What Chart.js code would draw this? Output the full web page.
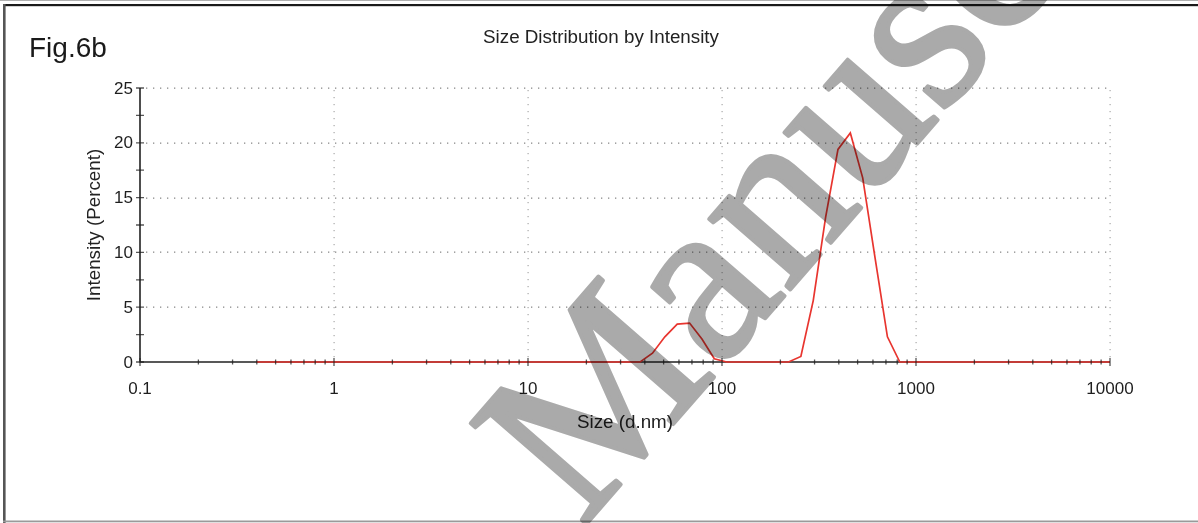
<!DOCTYPE html>
<html>
<head>
<meta charset="utf-8">
<script src="https://cdn.jsdelivr.net/npm/chart.js@4.4.1/dist/chart.umd.min.js"></script>
<style>
  html, body { margin: 0; padding: 0; background: #fff; }
  #wrap { position: relative; width: 1198px; height: 523px; }
  canvas { display: block; }
</style>
</head>
<body>
<div id="wrap"><canvas id="c" width="1198" height="523"></canvas></div>
<script>
// Size classes (d.nm) of the DLS size distribution
const sizes = [
  0.4000, 0.4632, 0.5365, 0.6213, 0.7195, 0.8332, 0.9649, 1.117, 1.294, 1.499,
  1.736, 2.010, 2.328, 2.696, 3.122, 3.615, 4.187, 4.849, 5.615, 6.503,
  7.531, 8.721, 10.10, 11.70, 13.54, 15.69, 18.17, 21.04, 24.36, 28.21,
  32.67, 37.84, 43.82, 50.75, 58.77, 68.06, 78.82, 91.28, 105.7, 122.4,
  141.8, 164.2, 190.1, 220.2, 255.0, 295.3, 342.0, 396.1, 458.7, 531.2,
  615.1, 712.4, 825.0, 955.4, 1106, 1281, 1484, 1718, 1990, 2305,
  2669, 3091, 3580, 4145, 4801, 5560, 6439, 7456, 8635, 10000
];

// Intensity (%) in each size class
const intensity = [
  0, 0, 0, 0, 0, 0, 0, 0, 0, 0,
  0, 0, 0, 0, 0, 0, 0, 0, 0, 0,
  0, 0, 0, 0, 0, 0, 0, 0, 0, 0,
  0, 0, 0.8, 2.3, 3.45, 3.55, 2.1, 0.3, 0, 0,
  0, 0, 0, 0, 0.5, 5.6, 13.2, 19.4, 20.9, 16.8,
  9.5, 2.3, 0, 0, 0, 0, 0, 0, 0, 0,
  0, 0, 0, 0, 0, 0, 0, 0, 0, 0
];

// Axis tick labels
const xTickValues = [0.1, 1, 10, 100, 1000, 10000];
const xTickLabels = ['0.1', '1', '10', '100', '1000', '10000'];
const yTickValues = [0, 5, 10, 15, 20, 25];

const chartTitle = 'Size Distribution by Intensity';
const figLabel = 'Fig.6b';
const xTitle = 'Size (d.nm)';
const yTitle = 'Intensity (Percent)';
const stampText = 'Manuscript';

const FONT = '"Liberation Sans", Arial, sans-serif';

// Frame, gridlines, axes and ticks drawn from the chart's own scales
const decorPlugin = {
  id: 'decor',
  beforeDatasetsDraw(chart) {
    const { ctx, chartArea: a, scales: { x, y } } = chart;
    ctx.save();

    // dotted horizontal gridlines
    ctx.fillStyle = '#8a8a8a';
    yTickValues.forEach(v => {
      if (v === 0) return;
      const py = Math.round(y.getPixelForValue(v));
      for (let px = a.left + 6; px <= a.right; px += 7) ctx.fillRect(px, py - 0.5, 1.3, 1.3);
    });
    // dotted vertical gridlines at decades
    ctx.fillStyle = '#a8a8a8';
    xTickValues.forEach(v => {
      if (v === 0.1) return;
      const px = Math.round(x.getPixelForValue(v));
      for (let py = a.bottom - 6; py >= a.top; py -= 7) ctx.fillRect(px - 0.5, py, 1.2, 1.2);
    });

    // axis lines
    ctx.strokeStyle = '#222';
    ctx.lineWidth = 1.6;
    ctx.beginPath();
    ctx.moveTo(a.left, a.top);
    ctx.lineTo(a.left, a.bottom);
    ctx.lineTo(a.right, a.bottom);
    ctx.stroke();
    ctx.restore();
  },
  afterDatasetsDraw(chart) {
    const { ctx, chartArea: a, scales: { x, y } } = chart;
    ctx.save();
    ctx.strokeStyle = 'rgba(30,30,30,0.75)';
    ctx.lineWidth = 1.3;
    ctx.beginPath();
    // y ticks, major and minor, crossing the axis
    for (let v = 0; v <= 25; v += 2.5) {
      const py = y.getPixelForValue(v);
      ctx.moveTo(a.left - 4, py);
      ctx.lineTo(a.left + 4, py);
    }
    // x minor ticks on each decade
    for (let d = 0.1; d < 10000; d *= 10) {
      for (let m = 2; m <= 9; m++) {
        const px = x.getPixelForValue(d * m);
        ctx.moveTo(px, a.bottom - 2.5);
        ctx.lineTo(px, a.bottom + 2.5);
      }
    }
    xTickValues.forEach(v => {
      const px = x.getPixelForValue(v);
      ctx.moveTo(px, a.bottom - 4);
      ctx.lineTo(px, a.bottom + 4);
    });
    ctx.stroke();

    // tick labels
    ctx.fillStyle = '#1e1e1e';
    ctx.font = '17px ' + FONT;
    ctx.textAlign = 'right';
    ctx.textBaseline = 'middle';
    yTickValues.forEach(v => ctx.fillText(String(v), a.left - 7, y.getPixelForValue(v) + 1));
    ctx.textAlign = 'center';
    ctx.textBaseline = 'top';
    xTickValues.forEach((v, i) => ctx.fillText(xTickLabels[i], x.getPixelForValue(v), a.bottom + 19));

    // titles
    ctx.fillStyle = '#222';
    ctx.font = '18.8px ' + FONT;
    ctx.textBaseline = 'alphabetic';
    ctx.fillText(chartTitle, 601, 43);
    ctx.fillText(xTitle, 625, 428);
    ctx.save();
    ctx.translate(100, 225);
    ctx.rotate(-Math.PI / 2);
    ctx.fillText(yTitle, 0, 0);
    ctx.restore();

    ctx.textAlign = 'left';
    ctx.font = '28px ' + FONT;
    ctx.fillStyle = '#1a1a1a';
    ctx.fillText(figLabel, 29, 57);

    // figure frame
    ctx.fillStyle = '#b0b0b0';
    ctx.fillRect(0, 0, 1198, 1);
    ctx.fillStyle = '#1a1a1a';
    ctx.fillRect(3, 4, 1195, 2.2);
    ctx.fillStyle = '#555';
    ctx.fillRect(3, 4, 2.6, 519);
    ctx.fillStyle = '#9a9a9a';
    ctx.fillRect(3, 520.5, 1195, 1.8);
    ctx.restore();
  },
  // diagonal grey stamp laid over the finished figure
  afterDraw(chart) {
    const { ctx, width, height } = chart;
    const layer = document.createElement('canvas');
    layer.width = width;
    layer.height = height;
    const lc = layer.getContext('2d');
    lc.fillStyle = '#aaaaaa';
    lc.strokeStyle = '#aaaaaa';
    lc.lineWidth = 4;
    lc.lineJoin = 'round';
    lc.font = '234px "Liberation Serif", "Times New Roman", serif';
    lc.textAlign = 'left';
    lc.textBaseline = 'alphabetic';
    lc.translate(582, 529);
    lc.rotate(-49 * Math.PI / 180);
    lc.fillText(stampText, 0, 0);
    lc.strokeText(stampText, 0, 0);

    ctx.save();
    ctx.globalCompositeOperation = 'multiply';
    ctx.drawImage(layer, 0, 0);
    ctx.restore();
  }
};

new Chart(document.getElementById('c'), {
  type: 'line',
  data: {
    datasets: [{
      data: sizes.map((s, i) => ({ x: s, y: intensity[i] })),
      borderColor: '#e8352f',
      borderWidth: 1.7,
      pointRadius: 0,
      tension: 0,
      fill: false,
      clip: false
    }]
  },
  options: {
    responsive: false,
    animation: false,
    events: [],
    layout: { padding: { left: 0, top: 88, right: 88, bottom: 0 } },
    plugins: { legend: { display: false }, tooltip: { enabled: false }, title: { display: false } },
    scales: {
      x: {
        type: 'logarithmic',
        min: 0.1,
        max: 10000,
        grid: { display: false },
        border: { display: false },
        ticks: { display: false },
        afterFit(s) { s.height = 161; }
      },
      y: {
        type: 'linear',
        min: 0,
        max: 25,
        grid: { display: false },
        border: { display: false },
        ticks: { display: false, stepSize: 5 },
        afterFit(s) { s.width = 140; }
      }
    }
  },
  plugins: [decorPlugin]
});
</script>
</body>
</html>
